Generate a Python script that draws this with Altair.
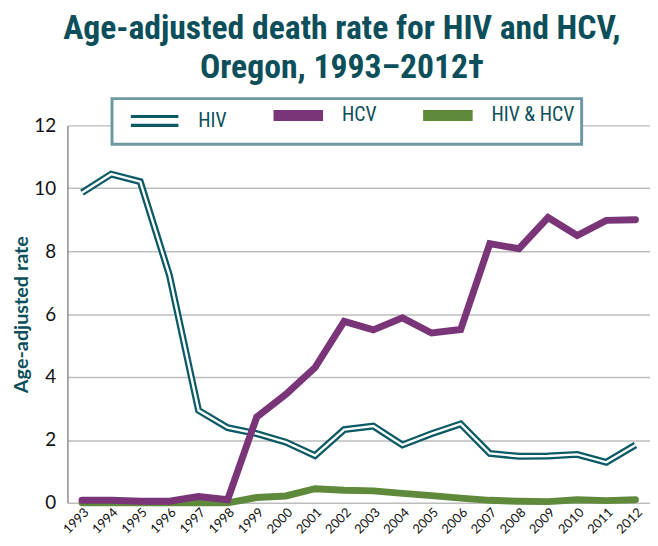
import altair as alt
import pandas as pd

years = [str(y) for y in range(1993, 2013)]
hiv = [9.86, 10.45, 10.21, 7.24, 2.94, 2.39, 2.20, 1.93, 1.50, 2.33, 2.44, 1.84, 2.20, 2.51, 1.57, 1.48, 1.49, 1.54, 1.29, 1.84]
hcv = [0.08, 0.08, 0.05, 0.05, 0.20, 0.10, 2.73, 3.45, 4.30, 5.77, 5.50, 5.88, 5.40, 5.51, 8.24, 8.08, 9.07, 8.50, 8.98, 9.00]
both = [0.0, 0.0, 0.0, 0.0, 0.0, 0.0, 0.17, 0.22, 0.45, 0.40, 0.38, 0.30, 0.23, 0.15, 0.08, 0.05, 0.04, 0.10, 0.07, 0.10]

series_names = ["HIV", "HCV", "HIV & HCV"]
series_colors = ["#0b5a66", "#7a3478", "#5f8a3b"]

rows = []
for name, vals in zip(series_names, [hiv, hcv, both]):
    for yr, v in zip(years, vals):
        rows.append({"year": yr, "series": name, "rate": v})
df = pd.DataFrame(rows)

TEAL = "#0c4f5a"
AXFONT = "Lato"
CONDENSED = "Roboto Condensed, Noto Sans Condensed, Liberation Sans Narrow, DejaVu Sans Condensed, Roboto, sans-serif"

x = alt.X("year:O", title=None, sort=years,
          axis=alt.Axis(labelAngle=-45, labelFont=AXFONT, labelFontSize=13, labelColor="#111111",
                        ticks=False, domain=False, grid=False, labelPadding=3))
y = alt.Y("rate:Q", title="Age-adjusted rate",
          scale=alt.Scale(domain=[0, 12], nice=False),
          axis=alt.Axis(values=[0, 2, 4, 6, 8, 10, 12], labelFont=AXFONT, labelFontSize=19,
                        labelColor="#111111", ticks=False, domain=True, domainColor="#8c8c8c",
                        domainWidth=1.5, grid=True, gridColor="#bdbdbd", gridWidth=1.5,
                        labelPadding=12, titleFont=AXFONT, titleFontSize=20, titleFontWeight="bold",
                        titleColor=TEAL, titlePadding=2))

legend = alt.Legend(
    orient="none", legendX=45, legendY=-27, direction="horizontal", title=None,
    fillColor="white", strokeColor="#6f98a5", padding=7,
    symbolType=alt.ExprRef(expr="datum.value === 'HIV' ? 'M-2.4,-0.45H2.4M-2.4,0.45H2.4' : 'M-2.5,0H2.5'"),
    symbolStrokeWidth=alt.ExprRef(expr="datum.value === 'HIV' ? 3.2 : 11"),
    symbolSize=400, symbolOffset=26,
    labelFont=CONDENSED, labelFontSize=20, labelColor=TEAL, labelOffset=34,
    labelExpr="datum.value === 'HIV & HCV' ? datum.label + '\u00a0\u00a0\u00a0\u00a0\u00a0\u00a0\u00a0' : datum.label",
    columnPadding=25,
)

color = alt.Color("series:N", scale=alt.Scale(domain=series_names, range=series_colors), legend=legend)

base = alt.Chart(df).encode(x=x, y=y)

hiv_dark = base.transform_filter(alt.datum.series == "HIV").mark_line(strokeWidth=7).encode(color=color)
hiv_white = base.transform_filter(alt.datum.series == "HIV").mark_line(strokeWidth=2.4, color="white")
green = base.transform_filter(alt.datum.series == "HIV & HCV").mark_line(strokeWidth=7, strokeCap="round").encode(color=color)
purple = base.transform_filter(alt.datum.series == "HCV").mark_line(strokeWidth=7, strokeCap="round").encode(color=color)

chart = alt.layer(hiv_dark, hiv_white, green, purple).properties(
    width=588, height=381,
    autosize=alt.AutoSizeParams(type="none"),
    padding={"left": 60, "top": 116, "right": 0, "bottom": 33},
    title=alt.Title(["Age-adjusted death rate for HIV and HCV,", "Oregon, 1993\u20132012\u2020"],
                    font=CONDENSED, fontSize=34, fontWeight="bold", color=TEAL,
                    anchor="middle", lineHeight=40, dx=-17, offset=12),
).configure_view(stroke=None).configure_legend(strokeWidth=3)

chart.save("out.html", embed_options={"renderer": "svg", "actions": False})
